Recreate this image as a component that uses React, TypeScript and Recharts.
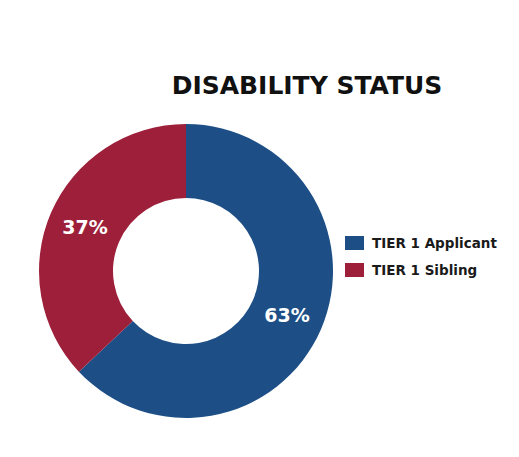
import React from 'react';
import { PieChart, Pie, Cell, Legend } from 'recharts';

const categories = ['TIER 1 Applicant', 'TIER 1 Sibling'];
const values = [63, 37];
const colors = ['#1D4F86', '#9D1F3A'];
const title = 'DISABILITY STATUS';

const data = categories.map((name, i) => ({ name, value: values[i] }));

const RAD = Math.PI / 180;
const renderLabel = (props: any) => {
  const { cx, cy, midAngle, innerRadius, outerRadius, value } = props;
  const r = (innerRadius + outerRadius) / 2;
  const x = cx + r * Math.cos(-midAngle * RAD);
  const y = cy + r * Math.sin(-midAngle * RAD);
  return (
    <text x={x} y={y} fill="#ffffff" textAnchor="middle" dominantBaseline="central"
      style={{ fontFamily: 'DejaVu Sans', fontSize: 19, fontWeight: 600 }}>
      {`${value}%`}
    </text>
  );
};

const renderLegend = (props: any) => {
  const { payload } = props;
  return (
    <div style={{ fontFamily: 'DejaVu Sans', fontSize: 13.5, fontWeight: 600, color: '#1a1a1a' }}>
      {payload.map((p: any, i: number) => (
        <div key={i} style={{ display: 'flex', alignItems: 'center', height: 27 }}>
          <div style={{ width: 19, height: 14, background: p.color, marginRight: 8 }} />
          <span>{p.value}</span>
        </div>
      ))}
    </div>
  );
};

export default function App() {
  return (
    <div style={{ position: 'absolute', left: 0, top: 0, width: 519, height: 457, background: '#fff' }}>
      <div style={{ position: 'absolute', left: 0, top: 71, width: 614, textAlign: 'center',
        fontFamily: 'DejaVu Sans', fontWeight: 700, fontSize: 25, color: '#111' }}>
        {title}
      </div>
      <PieChart width={519} height={457} margin={{ top: 0, right: 0, bottom: 0, left: 0 }}>
        <Pie data={data} dataKey="value" nameKey="name" cx={186} cy={271}
          innerRadius={73} outerRadius={147} startAngle={90} endAngle={-270}
          stroke="none" label={renderLabel} labelLine={false} isAnimationActive={false}>
          {data.map((d, i) => <Cell key={d.name} fill={colors[i]} />)}
        </Pie>
        <Legend content={renderLegend} layout="vertical" verticalAlign="top" align="right"
          wrapperStyle={{ left: 345, top: 229, width: 170 }} />
      </PieChart>
    </div>
  );
}
